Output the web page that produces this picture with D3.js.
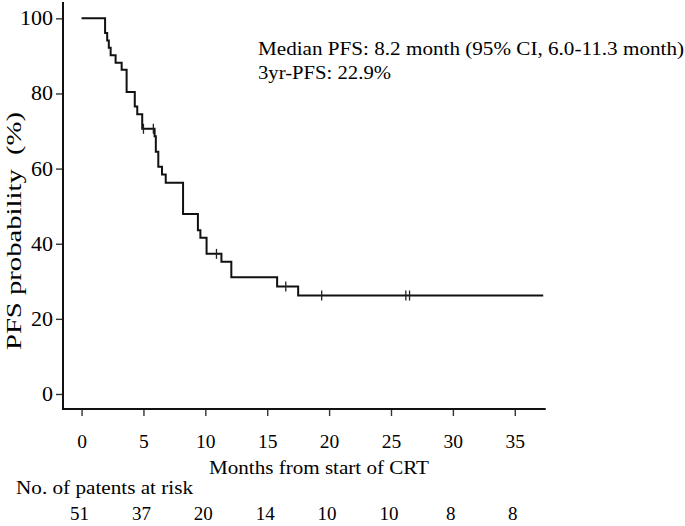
<!DOCTYPE html>
<html>
<head>
<meta charset="utf-8">
<script src="https://cdn.jsdelivr.net/npm/d3@7"></script>
<style>
  body { margin: 0; background: #fff; }
  text { font-family: "Liberation Serif", "Times New Roman", serif; fill: #000; }
</style>
</head>
<body>
<div id="chart"></div>
<script>
// step times (months) and PFS (%) after each step
const stepTimes = [0, 1.9, 2.07, 2.2, 2.35, 2.75, 3.24, 3.64, 4.3, 4.5, 4.9, 5.9, 6.0, 6.2, 6.5, 6.8, 8.2, 9.4, 9.6, 10.1, 11.3, 12.1, 15.8, 17.5];
const stepValues = [100, 96.1, 94.1, 92.2, 90.2, 88.2, 86.3, 80.4, 76.5, 74.5, 70.6, 68.6, 64.5, 60.5, 58.4, 56.2, 47.9, 43.6, 41.6, 37.3, 35.2, 31.1, 28.6, 26.2];
const lastTime = 37.3;
const censorTimes = [5.0, 5.8, 10.9, 16.5, 19.4, 26.2, 26.5];
const xTicks = [0, 5, 10, 15, 20, 25, 30, 35];
const yTicks = [0, 20, 40, 60, 80, 100];
const atRisk = [51, 37, 20, 14, 10, 10, 8, 8];

const W = 685, H = 526;
const svg = d3.select("#chart").append("svg")
    .attr("width", W)
    .attr("height", H);

const x = d3.scaleLinear().domain([-1.5, 37.5]).range([63, 545.7]);
const y = d3.scaleLinear().domain([-4, 104.35]).range([409, 2]);

// survival at time t (step function)
function survAt(t) {
    let s = stepValues[0];
    stepTimes.forEach((st, i) => { if (st <= t) s = stepValues[i]; });
    return s;
}

// axes
const xAxis = svg.append("g")
    .attr("transform", "translate(0," + y(-4) + ")")
    .call(d3.axisBottom(x).tickValues(xTicks).tickSize(7).tickSizeOuter(0).tickPadding(18.5));
const yAxis = svg.append("g")
    .attr("transform", "translate(" + x(-1.5) + ",0)")
    .call(d3.axisLeft(y).tickValues(yTicks).tickSize(7).tickSizeOuter(0).tickPadding(2));
[xAxis, yAxis].forEach(g => {
    g.select(".domain").remove();
    g.selectAll(".tick line").attr("stroke", "#333").attr("stroke-width", 1.4);
});
xAxis.selectAll(".tick text").style("font-size", "19.5px");
yAxis.selectAll(".tick text").style("font-size", "20px").attr("transform", "scale(1.1,1)");

// L-frame
svg.append("path")
    .attr("d", "M" + x(-1.5) + "," + y(104.35) + "V" + y(-4) + "H" + x(37.5))
    .attr("fill", "none")
    .attr("stroke", "#111")
    .attr("stroke-width", 2);

// KM curve
const pts = stepTimes.map((t, i) => [t, stepValues[i]]);
pts.push([lastTime, stepValues[stepValues.length - 1]]);
const km = d3.line()
    .x(d => x(d[0]))
    .y(d => y(d[1]))
    .curve(d3.curveStepAfter);
svg.append("path")
    .datum(pts)
    .attr("d", km)
    .attr("fill", "none")
    .attr("stroke", "#111")
    .attr("stroke-width", 2);

// censor marks
svg.selectAll(".censor")
    .data(censorTimes)
    .join("line")
    .attr("class", "censor")
    .attr("x1", d => x(d)).attr("x2", d => x(d))
    .attr("y1", d => y(survAt(d)) - 5)
    .attr("y2", d => y(survAt(d)) + 5)
    .attr("stroke", "#222")
    .attr("stroke-width", 1.3);

// annotations
svg.append("text")
    .attr("x", 258).attr("y", 55)
    .attr("textLength", 426).attr("lengthAdjust", "spacingAndGlyphs")
    .style("font-size", "19px")
    .text("Median PFS: 8.2 month (95% CI, 6.0-11.3 month)");
svg.append("text")
    .attr("x", 258).attr("y", 79)
    .attr("textLength", 133).attr("lengthAdjust", "spacingAndGlyphs")
    .style("font-size", "19px")
    .text("3yr-PFS: 22.9%");

// axis titles
svg.append("text")
    .attr("x", 209).attr("y", 474)
    .attr("textLength", 220).attr("lengthAdjust", "spacingAndGlyphs")
    .style("font-size", "19px")
    .text("Months from start of CRT");
svg.append("text")
    .attr("transform", "translate(21,350) rotate(-90)")
    .attr("textLength", 238).attr("lengthAdjust", "spacingAndGlyphs")
    .style("font-size", "20px")
    .style("white-space", "pre")
    .text("PFS probability  (%)");

// number at risk
svg.append("text")
    .attr("x", 16).attr("y", 493.5)
    .attr("textLength", 177).attr("lengthAdjust", "spacingAndGlyphs")
    .style("font-size", "19px")
    .text("No. of patents at risk");
svg.selectAll(".risk")
    .data(atRisk)
    .join("text")
    .attr("class", "risk")
    .attr("x", (d, i) => x(xTicks[i]) - 2)
    .attr("y", 520)
    .attr("text-anchor", "middle")
    .style("font-size", "19px")
    .text(d => d);
</script>
</body>
</html>
